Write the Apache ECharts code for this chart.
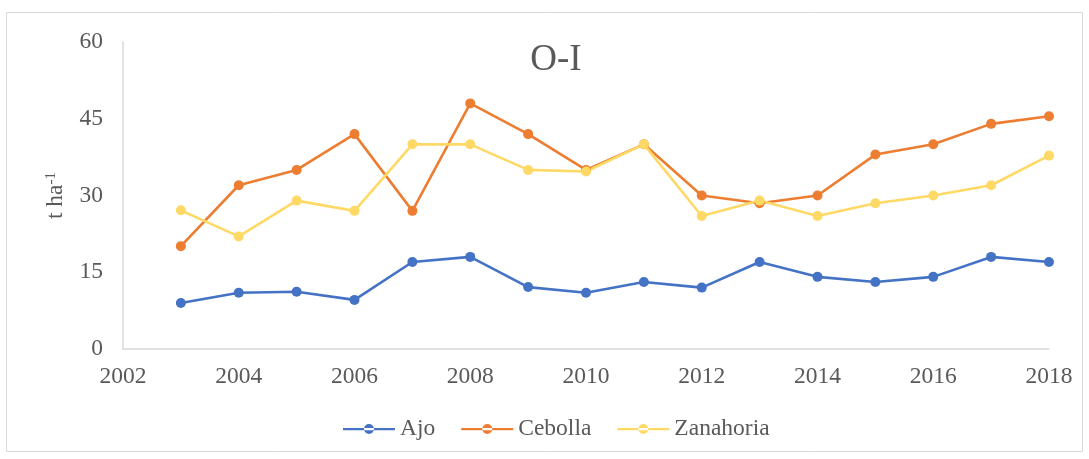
<!DOCTYPE html>
<html><head><meta charset="utf-8">
<script src="https://cdn.jsdelivr.net/npm/echarts@6/dist/echarts.min.js"></script>
<style>html,body{margin:0;padding:0;background:#fff}#c{width:1089px;height:459px}</style>
</head><body><div id="c"></div>
<script>
const years = [2003,2004,2005,2006,2007,2008,2009,2010,2011,2012,2013,2014,2015,2016,2017,2018];
const ajo = [9.0,11.0,11.2,9.6,17.0,18.0,12.1,11.0,13.1,12.0,17.0,14.1,13.1,14.1,18.0,17.0];
const cebolla = [20.1,32.0,35.0,42.0,27.0,48.0,42.0,35.0,40.0,30.0,28.5,30.0,38.0,40.0,44.0,45.5];
const zanahoria = [27.1,22.0,29.0,27.0,40.0,40.0,35.0,34.7,40.0,26.0,29.0,26.0,28.5,30.0,32.0,37.8];
const seriesNames = ['Ajo','Cebolla','Zanahoria'];
const colors = ['#4472C4','#ED7D31','#FFD966'];

const font = 'Liberation Serif, Times New Roman, serif';
const fs = 23.5;
const chart = echarts.init(document.getElementById('c'));
const mk = (name, vals, color) => ({
  name, type:'line', data: years.map((y,i)=>[y, vals[i]]),
  symbol:'circle', symbolSize:10, lineStyle:{width:2.6, color}, itemStyle:{color},
  emphasis:{disabled:true}
});
const legendIcon = 'path://M0,4 L52,4 L52,6.2 L0,6.2 Z M21,5 A5,5 0 1,0 31,5 A5,5 0 1,0 21,5 Z';
chart.setOption({
  animation:false,
  color: colors,
  title:{text:'O-I', left:551, top:37, textAlign:'center',
    textStyle:{fontFamily:font, fontSize:37, fontWeight:'normal', color:'#595959'}},
  graphic:[{type:'rect', shape:{x:6.5,y:12.5,width:1076,height:439}, style:{fill:'none', stroke:'#d9d9d9', lineWidth:1}, z:-1}],
  grid:{left:123, right:40, top:42, bottom:110, containLabel:false},
  legend:{top:412, left:338, itemWidth:52, itemHeight:10, itemGap:26,
    textStyle:{fontFamily:font, fontSize:fs, color:'#595959'},
    data: seriesNames.map(n=>({name:n, icon:legendIcon}))},
  xAxis:{type:'value', min:2002, max:2018, interval:2,
    axisLine:{show:true, lineStyle:{color:'#d9d9d9', width:1.5}},
    axisTick:{show:false}, splitLine:{show:false},
    axisLabel:{fontFamily:font, fontSize:fs, color:'#595959', margin:16, formatter:v=>String(v)}},
  yAxis:{type:'value', min:0, max:60, interval:15,
    name:'{a|t ha}{s|-1}', nameLocation:'middle', nameGap:55, nameRotate:90,
    nameTextStyle:{rich:{a:{fontFamily:font, fontSize:fs, color:'#595959'}, s:{fontFamily:font, fontSize:15, color:'#595959', verticalAlign:'top', padding:[0,0,9,0]}}},
    axisLine:{show:true, lineStyle:{color:'#d9d9d9', width:1.5}},
    axisTick:{show:false}, splitLine:{show:false},
    axisLabel:{fontFamily:font, fontSize:fs, color:'#595959', margin:20}},
  series:[mk('Ajo',ajo,colors[0]), mk('Cebolla',cebolla,colors[1]), mk('Zanahoria',zanahoria,colors[2])]
});
</script></body></html>
